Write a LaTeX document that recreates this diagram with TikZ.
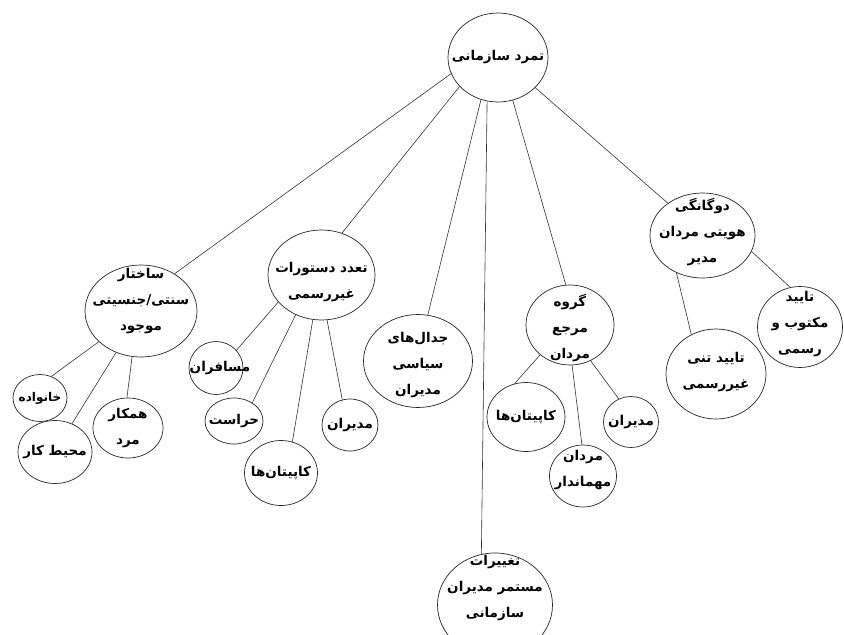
\documentclass[tikz,border=0pt]{standalone}
\usepackage{fontspec}
\usetikzlibrary{shapes.geometric}
\TeXXeTstate=1
\newfontfamily\arabicfont[Script=Arabic]{DejaVu Sans}
\newcommand{\fa}[1]{\beginR #1\endR}
\tikzset{
  bub/.style={ellipse,draw=black!85,line width=0.7pt,fill=white,inner sep=0pt},
  lbl/.style={align=center,inner sep=0pt,font=\arabicfont\bfseries\fontsize{13.5}{26}\selectfont},
  conn/.style={draw=black!80,line width=0.6pt}
}
\newcommand{\bub}[7]{%
  \node[bub,minimum width=#4pt,minimum height=#5pt] (#1) at (#2,#3) {};
  \node[lbl,yshift=#6pt] (#1t) at (#1) {#7};}
\begin{document}
\begin{tikzpicture}[x=1pt,y=-1pt]
\useasboundingbox (0,0) rectangle (844,635);
\clip (0,0) rectangle (844,635);
\fill[white] (0,0) rectangle (844,635);
\bub{r}{498}{57.5}{100}{89}{0}{\fa{تمرد سازمانی}}
\bub{a}{141}{311}{112}{92}{10}{\fa{ساختار}\\\fa{سنتی/جنسیتی}\\\fa{موجود}}
\bub{b}{321.5}{275}{107}{90}{-7}{\fa{تعدد دستورات}\\\fa{غیررسمی}}
\bub{c}{418}{361}{109}{93}{-4}{\fa{جدال‌های}\\\fa{سیاسی}\\\fa{مدیران}}
\bub{d}{495}{605}{115}{104}{17}{\fa{تغییرات}\\\fa{مستمر مدیران}\\\fa{سازمانی}}
\bub{e}{570}{325}{88}{80}{-3}{\fa{گروه}\\\fa{مرجع}\\\fa{مردان}}
\bub{f}{702.5}{235.5}{105}{85}{3}{\fa{دوگانگی}\\\fa{هویتی مردان}\\\fa{مدیر}}
\bub{a1}{40}{398}{54}{47}{0}{\fontsize{12}{26}\selectfont\fa{خانواده}}
\bub{a2}{55}{452}{74}{63}{0}{\fa{محیط کار}}
\bub{a3}{128}{428}{70}{60}{0}{\fa{همکار}\\\fa{مرد}}
\node[bub,minimum width=54pt,minimum height=53pt] (b1) at (216,368) {};
\node[lbl,xshift=4pt] (b1t) at (b1) {\fa{مسافران}};
\bub{b2}{234}{421}{58}{46}{0}{\fa{حراست}}
\bub{b3}{281}{473}{73}{65}{0}{\fa{کاپیتان‌ها}}
\bub{b4}{350}{425}{56}{52}{0}{\fa{مدیران}}
\bub{e1}{526}{417}{78}{69}{0}{\fa{کاپیتان‌ها}}
\bub{e2}{583}{476}{67}{62}{6}{\fa{مردان}\\\fa{مهماندار}}
\bub{e3}{631}{422}{55}{51}{0}{\fa{مدیران}}
\bub{f1}{716}{374}{100}{90}{2}{\fa{تایید تنی}\\\fa{غیررسمی}}
\bub{f2}{800}{327}{85}{81}{3}{\fa{تایید}\\\fa{مکتوب و}\\\fa{رسمی}}
\draw[conn] (r.199) -- (a.48);
\draw[conn] (r.217) -- (b.64);
\draw[conn] (r.248) -- (c.78);
\draw[conn] (r.256) -- (d.105);
\draw[conn] (r.289) -- (e.96);
\draw[conn] (r.321) -- (f.137);
\draw[conn] (a.216) -- (a1.62);
\draw[conn] (a.239) -- (a2.59);
\draw[conn] (a.259) -- (a3.92);
\draw[conn] (b.212) -- (b1.41);
\draw[conn] (b.237) -- (b2.45);
\draw[conn] (b.259) -- (b3.70);
\draw[conn] (b.277) -- (b4.107);
\draw[conn] (e.225) -- (e1.109);
\draw[conn] (e.273) -- (e2.92);
\draw[conn] (e.300) -- (e3.118);
\draw[conn] (f.235) -- (f1.122);
\draw[conn] (f.342) -- (f2.104);
\end{tikzpicture}
\end{document}
